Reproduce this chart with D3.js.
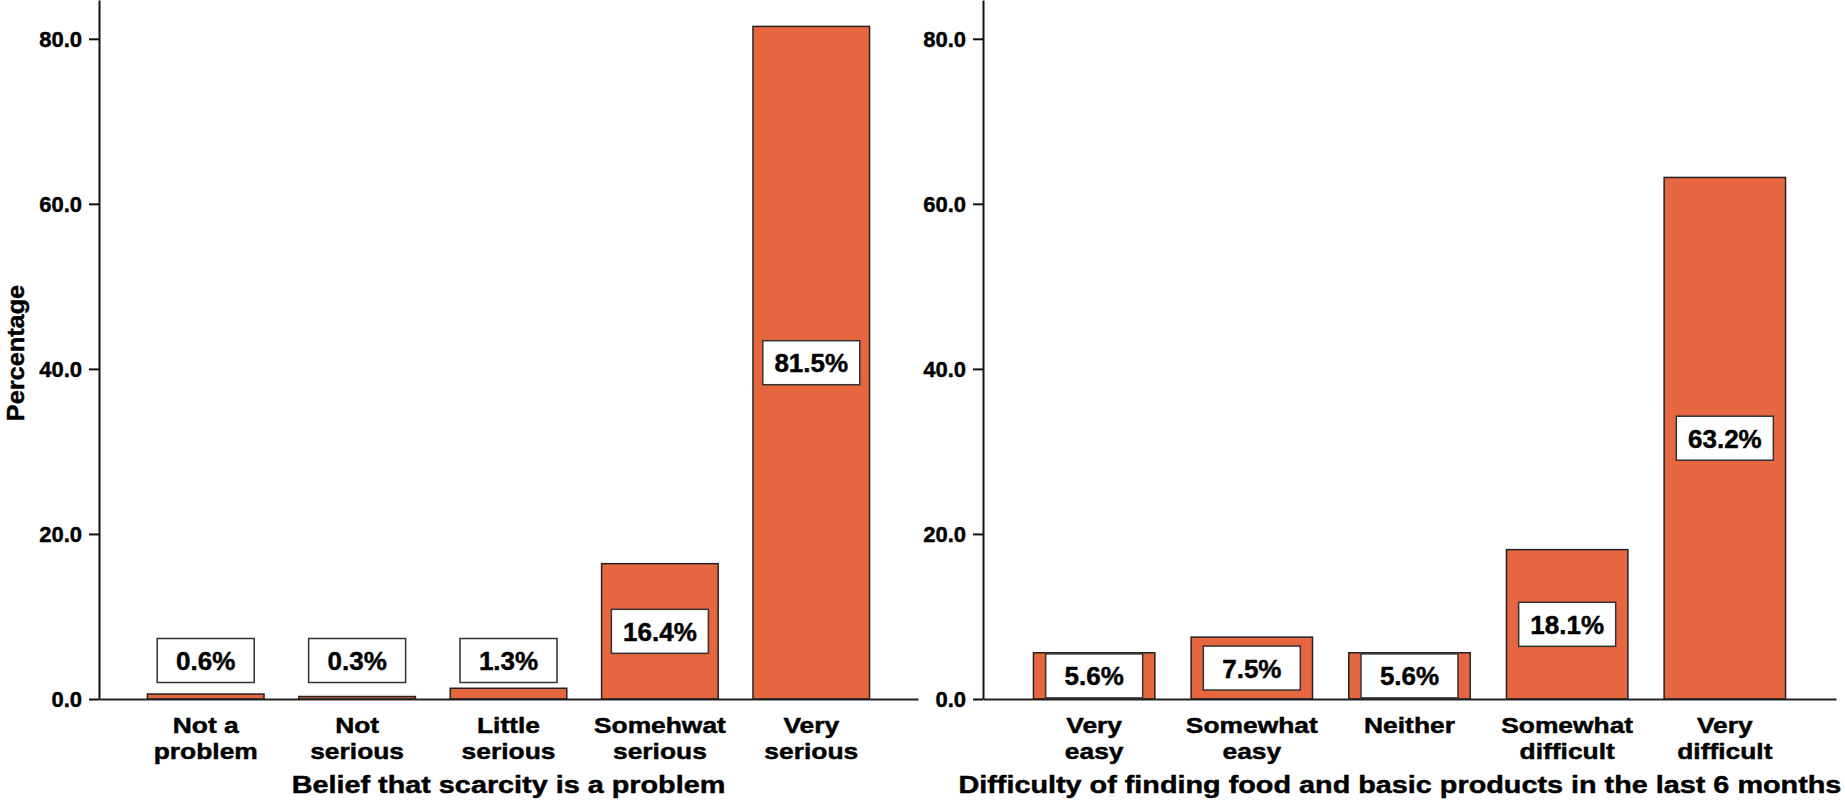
<!DOCTYPE html>
<html><head><meta charset="utf-8">
<script src="https://cdn.jsdelivr.net/npm/d3@7"></script>
<style>
body{margin:0;background:#fff;}
svg text{font-family:"Liberation Sans",Arial,Helvetica,sans-serif;font-weight:bold;fill:#000;stroke:#000;stroke-width:0.45px;}
</style>
</head><body>
<svg id="c" width="1845" height="801"></svg>
<script>
// ---- data ----
const leftCategories = ["Not a\nproblem", "Not\nserious", "Little\nserious", "Somehwat\nserious", "Very\nserious"];
const leftValues = [0.6, 0.3, 1.3, 16.4, 81.5];
const leftTitle = "Belief that scarcity is a problem";

const rightCategories = ["Very\neasy", "Somewhat\neasy", "Neither", "Somewhat\ndifficult", "Very\ndifficult"];
const rightValues = [5.6, 7.5, 5.6, 18.1, 63.2];
const rightTitle = "Difficulty of finding food and basic products in the last 6 months";

const yTicks = [0, 20, 40, 60, 80];
const yLabel = "Percentage";

// ---- layout ----
const W = 1845, H = 801;
const baseY = 699, topY = 0;
const yMax = 84.7;
const barColor = "#E6673F";
const stroke = "#222";
const SX = 1.2; // horizontal stretch of the reference's letter font

const svg = d3.select("#c");
const y = d3.scaleLinear().domain([0, yMax]).range([baseY, topY]);

function drawPanel(cats, vals, title, x0, x1) {
  const g = svg.append("g");
  const x = d3.scaleBand().domain(cats).range([x0, x1]).paddingInner(0.23).paddingOuter(0.32);

  // y axis
  const ya = g.append("g").attr("transform", `translate(${x0},0)`)
    .call(d3.axisLeft(y).tickValues(yTicks).tickFormat(d3.format(".1f")).tickSize(10).tickPadding(7).tickSizeOuter(0));
  ya.select(".domain").attr("stroke", "#111").attr("stroke-width", 2);
  ya.selectAll(".tick line").attr("stroke", "#111").attr("stroke-width", 2);
  ya.selectAll(".tick text").style("font-size", "22px").attr("dy", "0.36em");

  // bars
  g.selectAll("rect.bar").data(vals).join("rect").attr("class", "bar")
    .attr("x", (d, i) => x(cats[i]))
    .attr("width", x.bandwidth())
    .attr("y", d => y(d))
    .attr("height", d => baseY - y(d))
    .attr("fill", barColor)
    .attr("stroke", stroke).attr("stroke-width", 1.5);

  // x axis
  const xa = g.append("g").attr("transform", `translate(0,${baseY})`)
    .call(d3.axisBottom(x).tickSize(0).tickSizeOuter(0).tickPadding(0));
  xa.select(".domain").attr("stroke", "#222").attr("stroke-width", 2);
  xa.selectAll(".tick text").each(function(d) {
    const t = d3.select(this);
    t.text(null).attr("y", 0).attr("dy", null)
      .attr("transform", `scale(${SX},1)`)
      .style("font-size", "22px").attr("text-anchor", "middle");
    d.split("\n").forEach((line, k) => {
      t.append("tspan").attr("x", 0).attr("y", 34 + k * 26).text(line);
    });
  });

  // value labels
  const boxW = 97, boxH = 44;
  const lab = g.selectAll("g.lab").data(vals).join("g").attr("class", "lab")
    .attr("transform", (d, i) => {
      const cx = x(cats[i]) + x.bandwidth() / 2;
      const barH = baseY - y(d);
      const cy = barH < boxH ? baseY - 38.5 : y(d / 2);
      return `translate(${cx},${cy})`;
    });
  lab.append("rect").attr("x", -boxW / 2).attr("y", -boxH / 2).attr("width", boxW).attr("height", boxH)
    .attr("fill", "#fff").attr("stroke", "#333").attr("stroke-width", 1.5);
  lab.append("text").attr("text-anchor", "middle").attr("y", 9.5)
    .style("font-size", "26px").text(d => d3.format(".1f")(d) + "%");

  // axis title
  const tt = g.append("text").attr("text-anchor", "middle").style("font-size", "24px").text(title);
  const w = tt.node().getBBox().width * SX;
  const cx = Math.min((x0 + x1) / 2, W - 3.5 - w / 2);
  tt.attr("transform", `translate(${cx},793) scale(${SX},1)`);
}

drawPanel(leftCategories, leftValues, leftTitle, 99, 918);
drawPanel(rightCategories, rightValues, rightTitle, 983, 1836);

svg.append("text").attr("text-anchor", "middle")
  .attr("transform", `translate(24,353) rotate(-90) scale(1.1,1)`)
  .style("font-size", "23px").text(yLabel);
</script>
</body></html>
